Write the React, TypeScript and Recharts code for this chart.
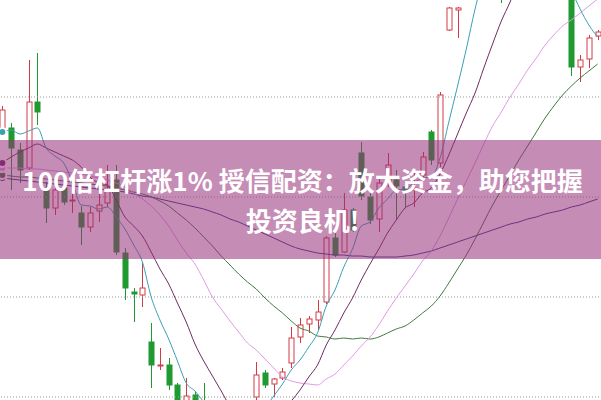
import { ComposedChart, Bar, Line, XAxis, YAxis, ReferenceLine } from 'recharts'

// --- data (index points) ---

const opens = [
  1269, 1269, 1247, 1229, 1295, 1209, 1189, 1209, 1196, 1184,
  1170, 1186, 1194, 1217, 1144, 1105, 1102, 1055, 1031, 1032,
  1012, 994, 1002, 992, 977, 957, 949, 955, 965, 1000,
  1024, 1013, 1019, 1034, 1060, 1073, 1077, 1095, 1159, 1145,
  1187, 1244, 1200, 1178, 1214, 1217, 1210, 1207, 1222, 1265,
  1234, 1367, 1387, 1402, 1422, 1437, 1459, 1449, 1439, 1437,
  1459, 1447, 1430, 1439, 1427, 1412, 1330, 1338, 1361,
]
const closes = [
  1287, 1249, 1227, 1295, 1285, 1189, 1207, 1195, 1197, 1170,
  1184, 1192, 1209, 1145, 1109, 1103, 1109, 1032, 1032, 1012,
  995, 1001, 992, 977, 957, 952, 957, 967, 987, 1022,
  1012, 1018, 1025, 1059, 1072, 1078, 1085, 1159, 1142, 1187,
  1167, 1201, 1177, 1214, 1232, 1211, 1205, 1209, 1240, 1237,
  1302, 1389, 1389, 1422, 1437, 1457, 1447, 1437, 1437, 1457,
  1447, 1432, 1437, 1427, 1407, 1330, 1337, 1359, 1365,
]
const highs = [
  1291, 1274, 1254, 1337, 1344, 1215, 1212, 1215, 1204, 1191,
  1190, 1204, 1232, 1232, 1149, 1109, 1134, 1074, 1049, 1039,
  1014, 1019, 1005, 1014, 982, 965, 961, 972, 992, 1035,
  1027, 1019, 1029, 1070, 1079, 1081, 1097, 1161, 1164, 1204,
  1189, 1255, 1204, 1220, 1244, 1227, 1215, 1224, 1245, 1267,
  1305, 1390, 1390, 1427, 1445, 1465, 1467, 1455, 1452, 1463,
  1469, 1452, 1442, 1445, 1432, 1417, 1342, 1362, 1367,
]
const lows = [
  1267, 1207, 1214, 1227, 1272, 1174, 1182, 1192, 1184, 1152,
  1165, 1175, 1190, 1142, 1097, 1075, 1090, 1009, 1027, 1007,
  992, 992, 987, 972, 947, 939, 942, 950, 961, 992,
  1009, 1000, 1017, 1029, 1054, 1064, 1067, 1093, 1140, 1144,
  1165, 1197, 1173, 1165, 1210, 1177, 1190, 1190, 1217, 1232,
  1230, 1366, 1359, 1399, 1417, 1432, 1442, 1394, 1427, 1432,
  1442, 1425, 1422, 1419, 1402, 1321, 1315, 1329, 1357,
]

const ma5 = [
  1265, 1267, 1263, 1266, 1269, 1249, 1241, 1234, 1215, 1192,
  1191, 1188, 1190, 1180, 1168, 1152, 1135, 1100, 1077, 1058,
  1036, 1014, 1006, 995, 984, 976, 967, 962, 964, 977,
  989, 1001, 1013, 1027, 1037, 1050, 1064, 1091, 1107, 1130,
  1148, 1171, 1175, 1189, 1198, 1207, 1208, 1214, 1219, 1220,
  1239, 1275, 1311, 1348, 1388, 1419, 1430, 1440, 1443, 1447,
  1445, 1442, 1442, 1440, 1430, 1407, 1388, 1372, 1360,
]
const ma10 = [
  1234, 1240, 1245, 1249, 1253, 1249, 1245, 1241, 1237, 1230,
  1220, 1214, 1212, 1197, 1180, 1171, 1161, 1145, 1128, 1113,
  1094, 1075, 1053, 1036, 1021, 1006, 991, 984, 980, 981,
  982, 984, 987, 996, 1007, 1020, 1032, 1052, 1067, 1084,
  1099, 1117, 1133, 1148, 1164, 1177, 1189, 1194, 1204, 1209,
  1223, 1242, 1263, 1284, 1304, 1329, 1353, 1376, 1395, 1417,
  1432, 1436, 1441, 1442, 1439, 1426, 1415, 1407, 1400,
]
const ma20 = [
  1229, 1229, 1229, 1228, 1228, 1227, 1226, 1225, 1224, 1223,
  1221, 1219, 1217, 1214, 1210, 1204, 1198, 1191, 1182, 1171,
  1157, 1144, 1133, 1117, 1100, 1088, 1076, 1065, 1054, 1047,
  1038, 1029, 1020, 1016, 1014, 1013, 1012, 1018, 1023, 1032,
  1041, 1051, 1060, 1072, 1086, 1099, 1111, 1123, 1136, 1146,
  1161, 1179, 1198, 1216, 1234, 1253, 1271, 1285, 1300, 1313,
  1327, 1339, 1352, 1362, 1371, 1377, 1384, 1391, 1398,
]
const ma30 = [
  1222, 1221, 1220, 1220, 1219, 1218, 1217, 1216, 1215, 1214,
  1213, 1212, 1211, 1209, 1207, 1205, 1203, 1200, 1196, 1191,
  1184, 1177, 1169, 1160, 1151, 1141, 1132, 1123, 1115, 1108,
  1099, 1091, 1084, 1076, 1069, 1066, 1061, 1060, 1058, 1059,
  1058, 1059, 1058, 1060, 1064, 1068, 1071, 1077, 1084, 1091,
  1101, 1114, 1128, 1142, 1158, 1175, 1192, 1207, 1222, 1237,
  1251, 1265, 1279, 1291, 1302, 1311, 1319, 1326, 1333,
]
const ma60 = [
  1219, 1218, 1217, 1216, 1215, 1214, 1213, 1212, 1211, 1210,
  1209, 1208, 1207, 1206, 1205, 1203, 1201, 1200, 1198, 1196,
  1194, 1192, 1190, 1188, 1185, 1182, 1178, 1175, 1171, 1167,
  1163, 1159, 1155, 1151, 1148, 1146, 1144, 1143, 1142, 1142,
  1141, 1141, 1140, 1140, 1140, 1140, 1141, 1142, 1144, 1146,
  1149, 1152, 1155, 1158, 1161, 1164, 1167, 1170, 1173, 1175,
  1178, 1180, 1183, 1185, 1187, 1190, 1192, 1195, 1198,
]

const days = opens.map((_, i) => `D${i + 1}`)
const gridValues = [1000, 1100, 1200, 1300]

const TITLE_1 = '100倍杠杆涨1% 授信配资：放大资金，助您把握'
const TITLE_2 = '投资良机!'

const UP = '#d43a44'
const DOWN = '#1f9a30'

const rows = days.map((day, i) => ({
  day,
  open: opens[i],
  close: closes[i],
  high: highs[i],
  low: lows[i],
  range: [lows[i], highs[i]],
  ma5: ma5[i],
  ma10: ma10[i],
  ma20: ma20[i],
  ma30: ma30[i],
  ma60: ma60[i],
}))

// candle drawn inside the bar's [low, high] box
function Candle(props: any) {
  const { x, y, width, height, payload } = props
  if (!payload || !height) return null
  const { open, close, high, low } = payload
  const up = close >= open
  const color = up ? UP : DOWN
  const toPx = (v: number) => y + ((high - v) / (high - low)) * height
  const cx = Math.round(x + width / 2) + 0.5
  const top = toPx(Math.max(open, close))
  const bot = toPx(Math.min(open, close))
  return (
    <g>
      <line x1={cx} x2={cx} y1={y} y2={top} stroke={color} strokeWidth={1} />
      <line x1={cx} x2={cx} y1={bot} y2={y + height} stroke={color} strokeWidth={1} />
      <rect
        x={cx - 2.5}
        y={top}
        width={5}
        height={Math.max(bot - top, 1)}
        fill={up ? '#fff' : color}
        stroke={color}
        strokeWidth={1}
      />
    </g>
  )
}

export default function App() {
  return (
    <div style={{ position: 'relative', width: 601, height: 400, overflow: 'hidden', background: '#fff' }}>
      <style>{'body{margin:0}'}</style>
      <div style={{ position: 'absolute', left: -2.5, top: 0 }}>
        <ComposedChart width={604} height={400} data={rows} margin={{ top: 0, right: 0, bottom: 0, left: 0 }}>
          <XAxis dataKey="day" hide />
          <YAxis hide domain={[997, 1397]} allowDataOverflow />
          {gridValues.map(v => (
            <ReferenceLine key={v} y={v} stroke="#9a9a9a" strokeDasharray="1 2" />
          ))}
          <Bar dataKey="range" shape={Candle} isAnimationActive={false} />
          <Line type="monotone" dataKey="ma60" stroke="#3b3b8c" strokeWidth={1} dot={false} isAnimationActive={false} />
          <Line type="monotone" dataKey="ma30" stroke="#3f7a3f" strokeWidth={1} dot={false} isAnimationActive={false} />
          <Line type="monotone" dataKey="ma20" stroke="#e39ae4" strokeWidth={1} dot={false} isAnimationActive={false} />
          <Line type="monotone" dataKey="ma10" stroke="#6e2c62" strokeWidth={1} dot={false} isAnimationActive={false} />
          <Line type="monotone" dataKey="ma5" stroke="#3c9fb4" strokeWidth={1} dot={false} isAnimationActive={false} />
        </ComposedChart>
      </div>
      <div
        style={{
          position: 'absolute',
          left: 0,
          top: 140,
          width: 601,
          height: 119,
          background: 'rgba(150, 45, 120, 0.55)',
          color: '#fff',
          fontFamily: '"Noto Sans CJK SC", sans-serif',
          fontWeight: 700,
          fontSize: 26,
          lineHeight: '40px',
          textAlign: 'center',
          letterSpacing: 0,
          paddingTop: 20,
          paddingLeft: 4,
          boxSizing: 'border-box',
          whiteSpace: 'nowrap',
        }}
      >
        <div>{TITLE_1}</div>
        <div>{TITLE_2}</div>
      </div>
    </div>
  )
}
